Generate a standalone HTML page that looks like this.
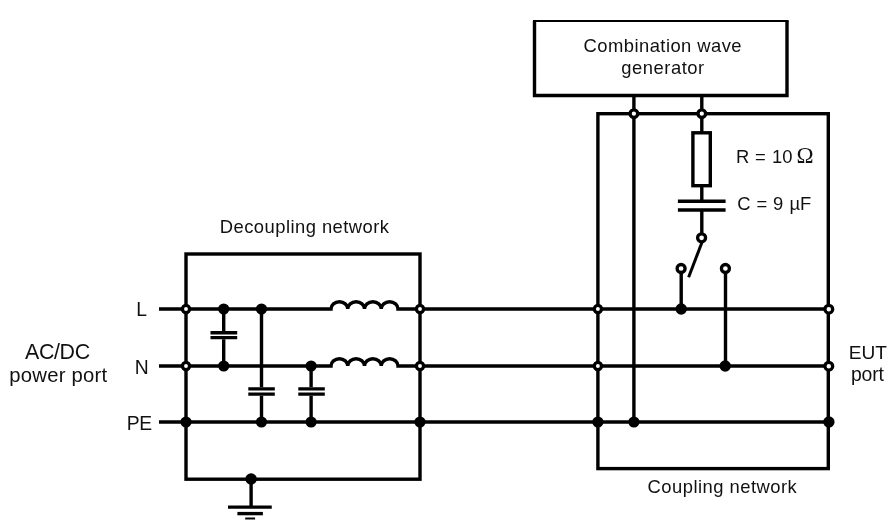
<!DOCTYPE html>
<html><head><meta charset="utf-8">
<style>
html,body{margin:0;padding:0;background:#fff;}
svg{display:block;will-change:transform;}
text{font-family:"Liberation Sans",sans-serif;fill:#111;}
</style></head>
<body>
<svg width="893" height="524" viewBox="0 0 893 524">
<rect width="893" height="524" fill="#fff"/>
<g fill="none" stroke="#000" stroke-width="3.4" stroke-linecap="butt" stroke-linejoin="miter">
  <!-- generator box -->
  <path d="M534.5,21 V95.5 H787 V21" />
  <path d="M533,21 H788.6" stroke-width="2.2"/>
  <!-- coupling box -->
  <rect x="597.9" y="113.7" width="230.4" height="354.9"/>
  <!-- decoupling box -->
  <rect x="186" y="254" width="234" height="225.2"/>
  <!-- main lines -->
  <path d="M159,309 H331 a8.25,7.1 0 0 1 16.75,0 a8.25,7.1 0 0 1 16.75,0 a8.25,7.1 0 0 1 16.75,0 a8.25,7.1 0 0 1 16.75,0 H828.2"/>
  <path d="M159,366 H331 a8.25,7.1 0 0 1 16.75,0 a8.25,7.1 0 0 1 16.75,0 a8.25,7.1 0 0 1 16.75,0 a8.25,7.1 0 0 1 16.75,0 H828.2"/>
  <path d="M159,422 H828.2"/>
  <!-- caps in decoupling -->
  <path d="M223.7,309 V331.1 M223.7,339.3 V366"/>
  <path d="M210.5,332.75 H237.2 M210.5,337.6 H237.2" stroke-width="3.3"/>
  <path d="M261.5,309 V387.3 M261.5,395.8 V422"/>
  <path d="M248.3,388.9 H274.8 M248.3,394.2 H274.8" stroke-width="3.3"/>
  <path d="M311.1,366 V387.3 M311.1,395.8 V422"/>
  <path d="M298.3,388.9 H324.8 M298.3,394.2 H324.8" stroke-width="3.3"/>
  <!-- ground -->
  <path d="M251.1,479 V506"/>
  <path d="M228,507.1 H271.75"/>
  <path d="M237.4,513.6 H262.9"/>
  <path d="M245.2,518.5 H255.1" stroke-width="2"/>
  <!-- generator wires -->
  <path d="M633.9,95.5 V422"/>
  <path d="M701.8,95.5 V132.8"/>
  <rect x="692.9" y="132.8" width="17.4" height="52.9"/>
  <path d="M701.8,185 V201 M701.8,210 V234"/>
  <path d="M677.9,201.2 H725.6 M677.9,210 H725.6" stroke-width="3.6"/>
  <!-- switch -->
  <path d="M702,242.3 L688.6,277.2" stroke-width="3"/>
  <path d="M681.2,272 V309"/>
  <path d="M725.5,272 V366"/>
</g>
<g fill="#000" stroke="none">
  <circle cx="223.7" cy="309" r="5.6"/>
  <circle cx="261.5" cy="309" r="5.6"/>
  <circle cx="223.7" cy="366" r="5.6"/>
  <circle cx="311.1" cy="366" r="5.6"/>
  <circle cx="186" cy="422" r="5.6"/>
  <circle cx="261.5" cy="422" r="5.6"/>
  <circle cx="311.1" cy="422" r="5.6"/>
  <circle cx="420" cy="422" r="5.6"/>
  <circle cx="251.1" cy="479" r="5.8"/>
  <circle cx="597.9" cy="422" r="5.6"/>
  <circle cx="633.9" cy="422" r="5.6"/>
  <circle cx="828.9" cy="422" r="5.65"/>
  <circle cx="681.2" cy="309" r="5.7"/>
  <circle cx="725.2" cy="366" r="5.7"/>
</g>
<g fill="#fff" stroke="#000" stroke-width="3.3">
  <circle cx="186" cy="309" r="3.6"/>
  <circle cx="186" cy="366" r="3.6"/>
  <circle cx="420" cy="309" r="3.6"/>
  <circle cx="420" cy="366" r="3.6"/>
  <circle cx="597.9" cy="309" r="3.6"/>
  <circle cx="597.9" cy="366" r="3.6"/>
  <circle cx="828.8" cy="309.2" r="3.9"/>
  <circle cx="828.8" cy="366.2" r="3.9"/>
  <circle cx="633.9" cy="113.7" r="3.8"/>
  <circle cx="701.8" cy="113.7" r="3.8"/>
  <circle cx="701.6" cy="237.8" r="4"/>
  <circle cx="681.1" cy="268.5" r="4"/>
  <circle cx="725.4" cy="268.5" r="4"/>
</g>
<g font-size="18.4">
  <text x="219.8" y="233.2" textLength="169.2">Decoupling network</text>
  <text x="25.1" y="359" font-size="21.4" textLength="65">AC/DC</text>
  <text x="9.3" y="381.8" font-size="20.3" textLength="97.8">power port</text>
  <text x="136.3" y="315.9" font-size="19.3">L</text>
  <text x="134.8" y="373.6" font-size="19.3">N</text>
  <text x="126.8" y="429.7" font-size="19.3" textLength="25.2">PE</text>
  <text x="583.6" y="52.4" textLength="158">Combination wave</text>
  <text x="621.2" y="73.7" textLength="83">generator</text>
  <text y="162.5"><tspan x="735.9">R</tspan><tspan x="755">=</tspan><tspan x="772.1">10</tspan></text>
  <text x="796.5" y="162.5" font-size="23" style="font-family:'Liberation Serif',serif">Ω</text>
  <text y="210"><tspan x="737.2">C</tspan><tspan x="756.5">=</tspan><tspan x="773">9</tspan><tspan x="789.5">µF</tspan></text>
  <text x="647.5" y="493.3" textLength="149.3">Coupling network</text>
  <text x="848.8" y="359.4" font-size="19.1" textLength="38.2">EUT</text>
  <text x="851" y="380.6" font-size="19.4" textLength="32.9">port</text>
</g>
</svg>
</body></html>
